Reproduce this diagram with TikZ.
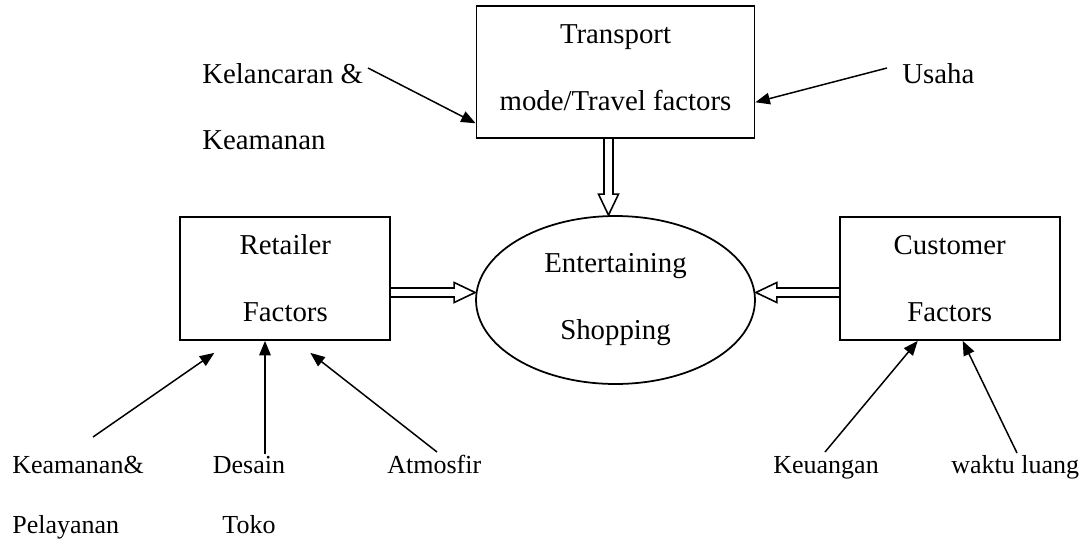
\documentclass[tikz,border=0pt]{standalone}
\usepackage{fontspec}
\setmainfont{Liberation Serif}
\usepackage{tikz}
\usetikzlibrary{arrows.meta,calc,positioning,shapes.geometric}

% outlined block arrow between two points
\newcommand{\hollowarrow}[2]{%
  \coordinate (hb) at ($(#2)!0.42cm!(#1)$);
  \draw[hollow] ($(#1)!0.09cm!90:(#2)$) -- ($(hb)!0.09cm!90:(#2)$) -- ($(hb)!0.2cm!90:(#2)$) -- (#2)
    -- ($(hb)!0.2cm!-90:(#2)$) -- ($(hb)!0.09cm!-90:(#2)$) -- ($(#1)!0.09cm!-90:(#2)$);
}

\begin{document}
\begin{tikzpicture}[x=0.02cm, y=-0.02cm,
    font=\fontsize{16.4}{38.1}\selectfont,
    box/.style={rectangle, draw, line width=1pt, align=center, inner sep=0pt},
    oval/.style={ellipse, draw, line width=1pt, align=center, inner sep=0pt, minimum width=5.58cm, minimum height=3.36cm},
    lbl/.style={anchor=base west, inner sep=0pt},
    small/.style={font=\fontsize{14.8}{34.1}\selectfont},
    arr/.style={-{Triangle[length=0.29cm, width=0.23cm]}, line width=0.85pt},
    hollow/.style={line width=0.9pt, line join=miter}]
    \useasboundingbox (0,0) rectangle (1085,541);

    \node[oval] (shop) at (615.5,300) {Entertaining\\Shopping};
    \node[box, minimum width=5.56cm, minimum height=2.64cm, text depth=0.2cm, above=1.52cm of shop] (transport) {Transport\\mode/Travel factors};
    \node[box, minimum width=4.2cm, minimum height=2.46cm, left=1.68cm of shop, yshift=0.43cm] (retailer) {Retailer\\Factors};
    \node[box, minimum width=4.4cm, minimum height=2.46cm, right=1.66cm of shop, yshift=0.43cm] (customer) {Customer\\Factors};

    \node[lbl, align=left, font=\fontsize{16.4}{37.5}\selectfont] (kel) at (202,149) {Kelancaran \&\\Keamanan};
    \node[lbl] (usaha) at (902,83) {Usaha};
    \node[lbl, small, align=left] (keamanan) at (12,533) {Keamanan\&\\Pelayanan};
    \node[lbl, small, anchor=base, align=center] (desain) at (249,533) {Desain\\Toko};
    \node[lbl, small] (atmosfir) at (387,473) {Atmosfir};
    \node[lbl, small] (keuangan) at (773,473) {Keuangan};
    \node[lbl, small] (waktu) at (951,473) {waktu luang};

    % free ends of the thin arrows
    \coordinate (k1) at (368,68);
    \coordinate (u1) at (887,68);
    \coordinate (p1) at (93,437);
    \coordinate (d1) at (265,454);
    \coordinate (m1) at (437,452);
    \coordinate (g1) at (825,452);
    \coordinate (w1) at (1017,453);

    \draw[arr] (k1) -- ([yshift=-1.02cm]transport.west);
    \draw[arr] (u1) -- ([yshift=-0.6cm]transport.east);
    \draw[arr] (p1) -- ([shift={(-1.42cm,-0.24cm)}]retailer.south);
    \draw[arr] (d1) -- (d1 |- retailer.south);
    \draw[arr] (m1) -- ([shift={(0.5cm,-0.24cm)}]retailer.south);
    \draw[arr] (g1) -- ([xshift=-0.64cm]customer.south);
    \draw[arr] (w1) -- ([xshift=0.26cm]customer.south);

    % block arrows into the oval
    \coordinate (h1) at ([xshift=-0.14cm]transport.south);
    \coordinate (h2) at (h1 |- shop.north);
    \coordinate (h3) at ([yshift=-0.28cm]retailer.east);
    \coordinate (h4) at (h3 -| shop.west);
    \coordinate (h5) at ([yshift=-0.28cm]customer.west);
    \coordinate (h6) at (h5 -| shop.east);
    \hollowarrow{h1}{h2}
    \hollowarrow{h3}{h4}
    \hollowarrow{h5}{h6}
\end{tikzpicture}
\end{document}
